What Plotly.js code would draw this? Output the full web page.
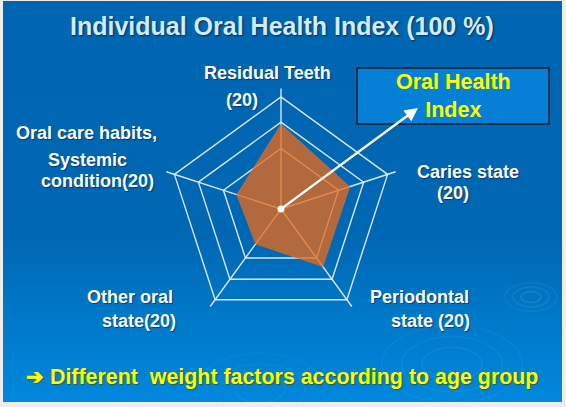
<!DOCTYPE html>
<html>
<head>
<meta charset="utf-8">
<script src="https://cdn.plot.ly/plotly-3.0.1.min.js"></script>
<style>
  html, body { margin:0; padding:0; background:#eeeeee; }
  #wrap { position:relative; width:566px; height:407px; background:#ededed; overflow:hidden; }
  #slide { position:absolute; left:3px; top:1px; width:559px; height:401px;
           background:linear-gradient(to bottom, #0066b1 0%, #0067b2 58%, #0078c8 78%, #0088dc 100%); }
  #chart { position:absolute; left:0; top:0; width:566px; height:407px; }
</style>
</head>
<body>
<div id="wrap"><div id="slide"></div><div id="chart"></div></div>
<script>
// ---- data ----
const categories = ["Residual Teeth", "Caries state", "Periodontal state", "Other oral state", "Oral care habits, Systemic condition"];
const scores = [15.1, 12.9, 12.7, 7.7, 8.3];
const maxScore = 20;
const ringValues = [10.8, 15.5, 20];
const titleText = "Individual Oral Health Index (100 %)";
const footerText = "\u2794 Different  weight factors according to age group";
const boxText = "Oral Health<br>Index";

// ---- layout helpers ----
const W = 566, H = 407;
const px = x => x / W;
const py = y => 1 - y / H;
const cx = 281, cy = 209, rad = 120.5;

const theta = categories.concat([categories[0]]);
const r = scores.concat([scores[0]]);

const trace = {
  type: 'scatterpolar',
  r: r, theta: theta,
  mode: 'lines',
  fill: 'toself',
  fillcolor: 'rgba(230,106,26,0.77)',
  line: {color: 'rgba(215,110,45,0.6)', width: 1},
  hoverinfo: 'skip',
  showlegend: false
};

const white = {family: '"Liberation Sans", Arial, sans-serif', size: 18, color: '#ffffff', weight: 'bold', shadow: '1px 1px 1px rgba(0,30,70,0.6)'};
function lab(text, x, y, font) {
  return {text: text, x: px(x), y: py(y), xref: 'paper', yref: 'paper', showarrow: false,
          xanchor: 'center', yanchor: 'middle', font: Object.assign({}, white, font || {})};
}

const annotations = [
  lab(titleText, 282, 26, {size: 25, color: '#d2ecfb', shadow: '1px 1px 2px #0a2a55'}),
  lab("Residual Teeth", 267, 73),
  lab("(20)", 241.5, 100),
  lab("Oral care habits,", 86, 133),
  lab("Systemic", 87.5, 160),
  lab("condition(20)", 97, 181),
  lab("Caries state", 467.5, 172),
  lab("(20)", 453, 193),
  lab("Periodontal", 419, 297),
  lab("state (20)", 430, 320.5),
  lab("Other oral", 130, 297),
  lab("state(20)", 139, 320.5),
  lab(footerText, 282, 377, {size: 21.4, color: '#ffff00', shadow: '1px 1px 1px rgba(60,60,0,0.6)'}),
  {text: boxText, x: px(453), y: py(96), xref: 'paper', yref: 'paper', showarrow: false,
   xanchor: 'center', yanchor: 'middle', align: 'center',
   font: {family: '"Liberation Sans", Arial, sans-serif', size: 21.5, color: '#ffff00', weight: 'bold'}},
  {text: '', x: px(418), y: py(108), xref: 'paper', yref: 'paper', showarrow: true,
   axref: 'pixel', ayref: 'pixel', ax: cx - 418, ay: cy - 108,
   arrowhead: 2, arrowsize: 1.1, arrowwidth: 2.4, arrowcolor: '#ffffff', standoff: 0, startstandoff: 0}
];

const ripple = (x, y, rr, a) => ({type: 'circle', xref: 'paper', yref: 'paper',
  x0: px(x - rr), x1: px(x + rr), y0: py(y + rr * 0.55), y1: py(y - rr * 0.55),
  line: {color: 'rgba(255,255,255,' + a + ')', width: 1.5}, layer: 'below'});

const shapes = [
  ripple(531, 297, 10, 0.10), ripple(531, 297, 18, 0.07), ripple(531, 297, 26, 0.05),
  ripple(452, 364, 30, 0.06), ripple(452, 364, 50, 0.05), ripple(452, 364, 70, 0.04),
  ripple(260, 389, 25, 0.05), ripple(260, 389, 45, 0.04), ripple(260, 389, 65, 0.03),
  {type: 'rect', xref: 'paper', yref: 'paper', x0: px(357), x1: px(549), y0: py(68), y1: py(124),
   fillcolor: '#0580d6', line: {color: '#101820', width: 1.5}, layer: 'below'},
  {type: 'circle', xref: 'paper', yref: 'paper', x0: px(cx - 3.5), x1: px(cx + 3.5), y0: py(cy - 3.5), y1: py(cy + 3.5),
   fillcolor: '#ffffff', line: {width: 0}, layer: 'above'}
];

const layout = {
  width: W, height: H,
  margin: {l: 0, r: 0, t: 0, b: 0},
  paper_bgcolor: 'rgba(0,0,0,0)',
  plot_bgcolor: 'rgba(0,0,0,0)',
  showlegend: false,
  polar: {
    domain: {x: [px(cx - rad), px(cx + rad)], y: [py(cy + rad), py(cy - rad)]},
    bgcolor: 'rgba(0,0,0,0)',
    gridshape: 'linear',
    radialaxis: {range: [0, maxScore * 1.075], tickvals: ringValues, showticklabels: false, ticks: '',
                 showline: false, gridcolor: 'rgba(228,238,250,0.95)', gridwidth: 1.4, layer: 'below traces'},
    angularaxis: {rotation: 90, direction: 'clockwise', showticklabels: false, ticks: '', showline: false,
                  gridcolor: 'rgba(228,238,250,0.95)', gridwidth: 1.4, layer: 'below traces'}
  },
  annotations: annotations,
  shapes: shapes
};

Plotly.newPlot('chart', [trace], layout, {staticPlot: true, displayModeBar: false});
</script>
</body>
</html>
